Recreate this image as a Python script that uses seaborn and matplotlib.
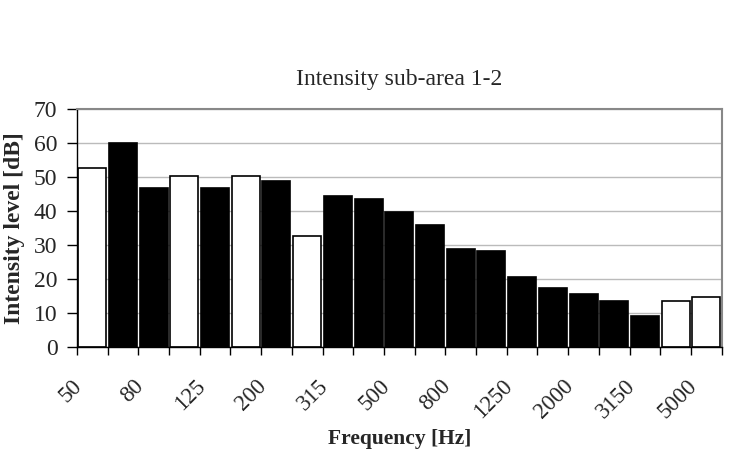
import numpy as np
import pandas as pd
import matplotlib
matplotlib.use("Agg")
import matplotlib.pyplot as plt
import matplotlib.transforms as mtransforms
import seaborn as sns

# 1/3-octave bands and measured intensity levels
freqs = ["50", "63", "80", "100", "125", "160", "200", "250", "315", "400", "500",
         "630", "800", "1000", "1250", "1600", "2000", "2500", "3150", "4000", "5000"]
levels = [52.5, 60.1, 46.7, 50.2, 46.8, 50.2, 48.9, 32.6, 44.4, 43.6, 39.6,
          36.0, 28.9, 28.3, 20.5, 17.4, 15.5, 13.5, 9.1, 13.4, 14.8]
# band type: "open" bars drawn white, "solid" bars drawn black
band_type = ["open", "solid", "solid", "open", "solid", "open", "solid", "open", "solid", "solid", "solid",
             "solid", "solid", "solid", "solid", "solid", "solid", "solid", "solid", "open", "open"]

df = pd.DataFrame({"Frequency": freqs, "Level": levels, "Type": band_type})

sns.set_theme(style="white")
plt.rcParams["font.family"] = ["Liberation Serif", "DejaVu Serif"]

fig = plt.figure(figsize=(7.32, 4.54), dpi=100)
ax = fig.add_axes([0.105, 0.236, 0.881, 0.524])

sns.barplot(data=df, x="Frequency", y="Level", hue="Type",
            palette={"open": "white", "solid": "black"}, dodge=False,
            width=0.91, edgecolor="black", linewidth=1.2, legend=False, ax=ax)

ax.set_ylim(0, 70)
ax.set_xlim(-0.5, len(freqs) - 0.5)
ax.set_yticks(np.arange(0, 71, 10))
ax.yaxis.grid(True, color="#bbbbbb", linewidth=1)
ax.set_axisbelow(True)

# labels on every other band, tick marks at band boundaries
pos = np.arange(len(freqs))
ax.set_xticks(pos[::2])
ax.set_xticks(np.arange(-0.5, len(freqs), 1), minor=True)
ax.tick_params(axis="x", which="major", length=0, pad=26)
ax.tick_params(axis="x", which="minor", length=6, width=1, color="black", direction="out", bottom=True)
ax.tick_params(axis="y", length=7, width=1, color="black", direction="out", left=True, labelsize=17, pad=7)
ax.set_xticklabels(freqs[::2], rotation=45, ha="right", va="center", rotation_mode="anchor", fontsize=16.5)
shift = mtransforms.ScaledTranslation(-13 / 100, 0, fig.dpi_scale_trans)
for lab in ax.get_xticklabels():
    lab.set_transform(lab.get_transform() + shift)

for s in ["left", "bottom"]:
    ax.spines[s].set_color("black")
    ax.spines[s].set_linewidth(1)
for s in ["top", "right"]:
    ax.spines[s].set_color("#888888")
    ax.spines[s].set_linewidth(1.5)

ax.set_title("Intensity sub-area 1-2", fontsize=17, pad=17)
ax.set_xlabel("Frequency [Hz]", fontsize=15.5, fontweight="bold", va="top")
ax.xaxis.set_label_coords(0.5, -0.345)
ax.set_ylabel("Intensity level [dB]", fontsize=17, fontweight="bold", labelpad=6)

fig.savefig("out.png", dpi=100)
